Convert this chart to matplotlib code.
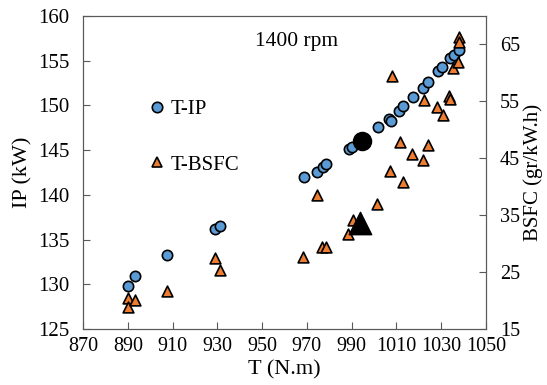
import matplotlib.pyplot as plt
from matplotlib.lines import Line2D

plt.rcParams['font.family'] = ['Liberation Serif', 'DejaVu Serif']

# torque vs indicated power
t_ip = [890.0, 893.4, 907.4, 929.0, 931.2, 968.8, 974.6, 977.0, 978.4,
        988.7, 990.3, 1001.9, 1006.8, 1007.4, 1011.3, 1012.8, 1017.2,
        1022.0, 1024.0, 1028.4, 1030.2, 1033.9, 1035.7, 1038.1]
ip = [129.8, 130.9, 133.3, 136.2, 136.5, 142.0, 142.5, 143.15, 143.5,
      145.1, 145.4, 147.6, 148.45, 148.3, 149.4, 149.9, 150.9,
      152.0, 152.6, 153.8, 154.3, 155.3, 155.6, 156.2]

# torque vs BSFC
t_bsfc = [890.0, 890.0, 893.2, 907.4, 929.0, 931.2, 968.4, 974.6, 976.9,
          978.4, 988.5, 990.4, 1001.4, 1007.1, 1007.9, 1011.6, 1012.8,
          1017.1, 1021.7, 1022.3, 1024.0, 1028.2, 1030.6, 1033.6, 1033.8,
          1035.1, 1037.6, 1038.0, 1038.0]
bsfc = [20.4, 18.9, 20.1, 21.7, 27.4, 25.4, 27.6, 38.6, 29.4,
        29.4, 31.7, 34.2, 37.0, 42.7, 59.5, 47.8, 40.9,
        45.8, 44.75, 55.3, 47.4, 54.0, 52.6, 56.0, 55.4,
        60.9, 61.9, 66.4, 65.5]

# highlighted operating point
t_sel = 994.5
ip_sel = 146.0
bsfc_sel = 33.6

blue = '#5B9BD5'
orange = '#ED7D31'
spine_c = '#595959'

fig = plt.figure(figsize=(5.47, 3.85), dpi=100)
ax = fig.add_axes([0.1517, 0.1455, 0.7368, 0.8129])
ax2 = ax.twinx()

ax.scatter(t_ip, ip, s=55, marker='o', facecolor=blue, edgecolor='black',
           linewidth=1.2, zorder=3)
ax.scatter([t_sel], [ip_sel], s=170, marker='o', color='black', zorder=4)
ax2.scatter(t_bsfc, bsfc, s=60, marker='^', facecolor=orange, edgecolor='black',
            linewidth=1.2, zorder=3)
ax2.scatter([t_sel - 0.8], [bsfc_sel], s=260, marker='^', color='black', zorder=4)

ax.set_xlim(870, 1050)
ax.set_ylim(125, 160)
ax2.set_ylim(15, 70)
ax.set_xticks(range(870, 1051, 20))
ax.set_yticks(range(125, 161, 5))
ax2.set_yticks(range(15, 66, 10))

for a in (ax, ax2):
    for s in a.spines.values():
        s.set_color(spine_c)
    a.tick_params(direction='in', length=5, color=spine_c, labelsize=15)
ax.tick_params(axis='x', pad=6, labelsize=14.5)
ax.tick_params(axis='y', pad=10)
ax2.tick_params(axis='y', pad=10, labelsize=14.5)

ax.set_xlabel('T (N.m)', fontsize=16, labelpad=3)
ax.set_ylabel('IP (kW)', fontsize=16, labelpad=4)
ax2.set_ylabel('BSFC (gr/kW.h)', fontsize=15, labelpad=2)

ax.text(965.6, 157.1, '1400 rpm', fontsize=15.5, ha='center', va='center')

handles = [
    Line2D([], [], linestyle='none', marker='o', markersize=7.5,
           markerfacecolor=blue, markeredgecolor='black', markeredgewidth=1.2),
    Line2D([], [], linestyle='none', marker='^', markersize=7.5,
           markerfacecolor=orange, markeredgecolor='black', markeredgewidth=1.2),
]
ax2.legend(handles, ['T-IP', 'T-BSFC'], frameon=False, fontsize=15,
           loc='center left', bbox_to_anchor=(0.156, 0.613), labelspacing=1.72,
           handletextpad=0.15, handlelength=1.04, borderpad=0, borderaxespad=0)

fig.savefig('out.png', dpi=100)
